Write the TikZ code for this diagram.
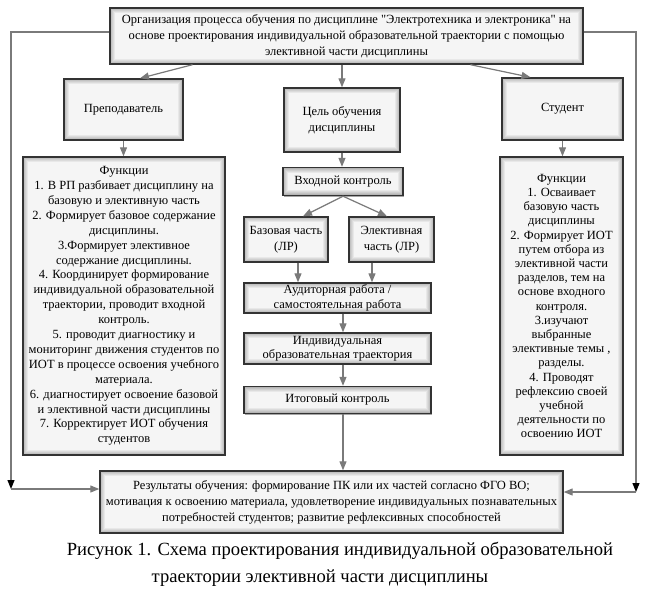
\documentclass[tikz,border=0pt]{standalone}
\usepackage{fontspec}
\setmainfont{Liberation Serif}
\newfontfamily\plainserif{Liberation Serif}
\usetikzlibrary{arrows.meta,shadows,calc}
\definecolor{boxline}{HTML}{333333}
\definecolor{arrowgray}{HTML}{7A7A7A}
\newcommand\fsbox{\fontsize{12.5}{15.5}\selectfont}
\newcommand\fstop{\fontsize{12.5}{16}\selectfont}
\newcommand\fstight{\fontsize{12.5}{14.5}\selectfont}
\newcommand\fsfunl{\fontsize{12.5}{14.9}\selectfont}
\newcommand\fsfunr{\fontsize{12.5}{14.2}\selectfont}
\newcommand\fscap{\fontsize{18.6}{27}\selectfont}
\newcommand\dq{{\plainserif"}}
\newcommand\glowbox{%
  \foreach \i in {1,...,6}{%
    \pgfmathtruncatemacro\c{34-5*\i}%
    \draw[line width=1.1pt, draw=black!\c]
      ([shift={({\i*1pt},{-\i*1pt})}]path picture bounding box.north west) rectangle
      ([shift={({-\i*1pt},{\i*1pt})}]path picture bounding box.south east);
  }}
\tikzset{
  box/.style={draw=boxline, line width=1.4pt, fill=black!4, align=center,
    inner sep=0pt, font=\fsbox,
    drop shadow={shadow xshift=0.8pt, shadow yshift=-1.2pt, fill=black, opacity=0.35},
    path picture={\glowbox}},
  arr/.style={draw=arrowgray, color=arrowgray, line width=1.2pt,
    -{Triangle[length=9pt,width=7pt]}},
  cornerarr/.style={draw=arrowgray, line width=1.2pt,
    -{Triangle[length=9pt,width=7pt,color=black,fill=black]}}
}
\begin{document}
\begin{tikzpicture}[x=1pt,y=-1pt]
\useasboundingbox (0,0) rectangle (648,590);
\fill[white] (0,0) rectangle (648,590);

\node[box, font=\fstop, minimum width=473pt, minimum height=56pt] (top) at (346.5,36)
  {Организация процесса обучения по дисциплине \dq Электротехника и электроника\dq{} на\\
   основе проектирования индивидуальной образовательной траектории с помощью\\
   элективной части дисциплины};

\node[box, minimum width=119pt, minimum height=61pt] (prep) at (123.5,109.5) {Преподаватель};
\node[box, minimum width=116pt, minimum height=64pt] (goal) at (342,120) {Цель обучения\\дисциплины};
\node[box, minimum width=121pt, minimum height=62pt] (stud) at (562.5,109) {Студент};

\node[box, font=\fsfunl, minimum width=202pt, minimum height=298pt] (lfun) at (124,306)
  {Функции\\
   1. В РП разбивает дисциплину на\\
   базовую и элективную часть\\
   2. Формирует базовое содержание\\
   дисциплины.\\
   3.Формирует элективное\\
   содержание дисциплины.\\
   4. Координирует формирование\\
   индивидуальной образовательной\\
   траектории, проводит входной\\
   контроль.\\
   5. проводит диагностику и\\
   мониторинг движения студентов по\\
   ИОТ в процессе освоения учебного\\
   материала.\\
   6. диагностирует освоение базовой\\
   и элективной части дисциплины\\
   7. Корректирует ИОТ обучения\\
   студентов};

\node[box, font=\fsfunr, minimum width=123pt, minimum height=298pt] (rfun) at (561.5,306)
  {Функции\\
   1. Осваивает\\
   базовую часть\\
   дисциплины\\
   2. Формирует ИОТ\\
   путем отбора из\\
   элективной части\\
   разделов, тем на\\
   основе входного\\
   контроля.\\
   3.изучают\\
   выбранные\\
   элективные темы ,\\
   разделы.\\
   4. Проводят\\
   рефлексию своей\\
   учебной\\
   деятельности по\\
   освоению ИОТ};

\node[box, minimum width=120pt, minimum height=28pt] (inc) at (343,181.5) {Входной контроль};
\node[box, minimum width=84pt, minimum height=45pt] (base) at (286,239.5) {Базовая часть\\(ЛР)};
\node[box, minimum width=85pt, minimum height=45pt] (elec) at (391.5,239.5) {Элективная\\часть (ЛР)};
\node[box, font=\fstight, minimum width=187pt, minimum height=30pt] (aud) at (337.5,298)
  {Аудиторная работа /\\самостоятельная работа};
\node[box, font=\fstight, minimum width=187pt, minimum height=31pt] (ind) at (337.5,348.5)
  {Индивидуальная\\образовательная траектория};
\node[box, minimum width=187pt, minimum height=27pt] (fin) at (337.5,400) {Итоговый контроль};

\node[box, font=\fstop, minimum width=463pt, minimum height=62pt] (res) at (331.5,502)
  {Результаты обучения: формирование ПК или их частей согласно ФГО ВО;\\
   мотивация к освоению материала, удовлетворение индивидуальных познавательных\\
   потребностей студентов; развитие рефлексивных способностей};

\node[font=\fscap, align=center, inner sep=0pt] (cap) at (340,564)
  {Рисунок 1. Схема проектирования индивидуальной образовательной\\
   траектории элективной части дисциплины\hspace*{40pt}};

% connectors
\draw[arr] ([xshift=-154pt]top.south) -- ([xshift=16.5pt]prep.north);
\draw[arr] (goal.north |- top.south) -- (goal.north);
\draw[arr] ([xshift=124pt]top.south) -- ([xshift=-32pt]stud.north);
\draw[arr] (prep.south) -- (prep.south |- lfun.north);
\draw[arr] (stud.south) -- (stud.south |- rfun.north);
\draw[arr] (goal.south) -- (goal.south |- inc.north);
\draw[arr] (inc.south) -- ([xshift=17pt]base.north);
\draw[arr] (inc.south) -- ([xshift=-4.5pt]elec.north);
\draw[arr] ([xshift=12pt]base.south) -- ([xshift=12pt]base.south |- aud.north);
\draw[arr] ([xshift=-19.5pt]elec.south) -- ([xshift=-19.5pt]elec.south |- aud.north);
\draw[arr] ([xshift=5.5pt]aud.south) -- ([xshift=5.5pt]ind.north);
\draw[arr] ([xshift=5.5pt]ind.south) -- ([xshift=5.5pt]fin.north);
\draw[arr] ([xshift=5.5pt]fin.south) -- ([xshift=5.5pt]fin.south |- res.north);

\coordinate (lc) at (11,489);
\coordinate (rc) at (636,492);
\draw[cornerarr] ([yshift=4pt]top.west) -| (lc);
\draw[arr] (lc) -- (lc -| res.west);
\draw[cornerarr] ([yshift=4pt]top.east) -| (rc);
\draw[arr] (rc) -- (rc -| res.east);
\end{tikzpicture}
\end{document}
